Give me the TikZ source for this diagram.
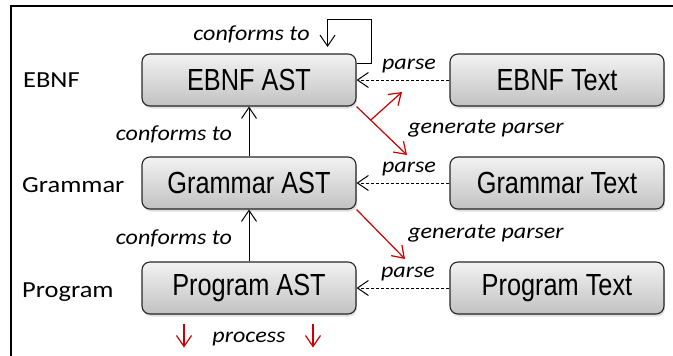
\documentclass[tikz,border=0pt]{standalone}
\usepackage{fontspec}
\setmainfont{Carlito}
\newfontfamily\boxfont[FakeStretch=0.83]{Liberation Sans}
\newfontfamily\lblfont[FakeStretch=1.15]{Carlito}
\newfontfamily\itlfont[FakeStretch=1.12]{Carlito}
\usetikzlibrary{arrows.meta,shadows}
\tikzset{
  astbox/.style={draw=black!85, line width=1.1pt, rounded corners=8pt,
    minimum width=214pt, minimum height=52pt, inner sep=0pt,
    top color=black!5, bottom color=black!24,
    drop shadow={opacity=0.25, shadow xshift=1pt, shadow yshift=-2.5pt},
    font=\boxfont\fontsize{30.5}{32}\selectfont},
  rowlabel/.style={anchor=base west, inner sep=0pt, font=\lblfont\fontsize{23}{25}\selectfont},
  edgelabel/.style={anchor=base, inner sep=0pt, font=\itlfont\itshape\fontsize{21.5}{24}\selectfont},
  blackarrow/.style={line width=1pt, -{Straight Barb[length=11pt,width=15pt,line width=1pt]}},
  parsearrow/.style={blackarrow, dash pattern=on 3pt off 2pt},
  redarrow/.style={draw=red!80!black, line width=1.2pt,
    -{Straight Barb[length=11pt,width=15pt,line width=1.2pt]}},
}
\begin{document}
\begin{tikzpicture}[x=1pt,y=-1pt]
\useasboundingbox (0,0) rectangle (673,356);

% frame
\draw[line width=2pt] (11,356) -- (11,6) -- (673,6);

% boxes
\node[astbox] (ebnfast)    at (249,80)  {EBNF AST};
\node[astbox] (ebnftext)   at (557,80)  {EBNF Text};
\node[astbox] (grammarast) at (249,183) {Grammar AST};
\node[astbox] (grammartext)at (557,183) {Grammar Text};
\node[astbox] (programast) at (249,288) {Program AST};
\node[astbox] (programtext)at (557,288) {Program Text};

% row labels
\node[rowlabel] (lebnf)    at (23,87)  {EBNF};
\node[rowlabel] (lgrammar) at (22,192) {Grammar};
\node[rowlabel] (lprogram) at (22,297) {Program};

% conforms-to relations
\draw[blackarrow] (grammarast.north) -- (ebnfast.south);
\draw[blackarrow] (programast.north) -- (grammarast.south);
\draw[blackarrow] ([yshift=17pt]ebnfast.east) -- ++(15,0) -- ++(0,-44) -- ++(-44,0) -- ++(0,28);
\node[edgelabel] (ctop) at (251.5,41) {conforms to};
\node[edgelabel] (cone) at (174,140)  {conforms to};
\node[edgelabel] (ctwo) at (174,244)  {conforms to};

% parse relations
\draw[parsearrow] (ebnftext.west) -- (ebnfast.east);
\draw[parsearrow] (grammartext.west) -- (grammarast.east);
\draw[parsearrow] (programtext.west) -- (programast.east);
\node[edgelabel] (pone)   at (409,69)  {parse};
\node[edgelabel] (ptwo)   at (409,172) {parse};
\node[edgelabel] (pthree) at (408,277) {parse};

% generated parsers
\coordinate (gpone) at (407,155);
\coordinate (gponeup) at (402,92);
\coordinate (gptwo) at (405,259);
\draw[redarrow] (ebnfast.south east) -- coordinate[pos=0.28] (gpfork) (gpone);
\draw[redarrow] (gpfork) -- (gponeup);
\draw[redarrow] (grammarast.south east) -- (gptwo);
\node[edgelabel] (gone) at (486,133) {generate parser};
\node[edgelabel] (gtwo) at (486,238) {generate parser};

% processing
\coordinate (procl) at ([xshift=-65pt,yshift=-9pt]programast.south);
\coordinate (procr) at ([xshift=64pt,yshift=-9pt]programast.south);
\draw[redarrow] (procl) -- ++(0,24);
\draw[redarrow] (procr) -- ++(0,24);
\node[edgelabel] (proc) at (249,342) {process};
\end{tikzpicture}
\end{document}
